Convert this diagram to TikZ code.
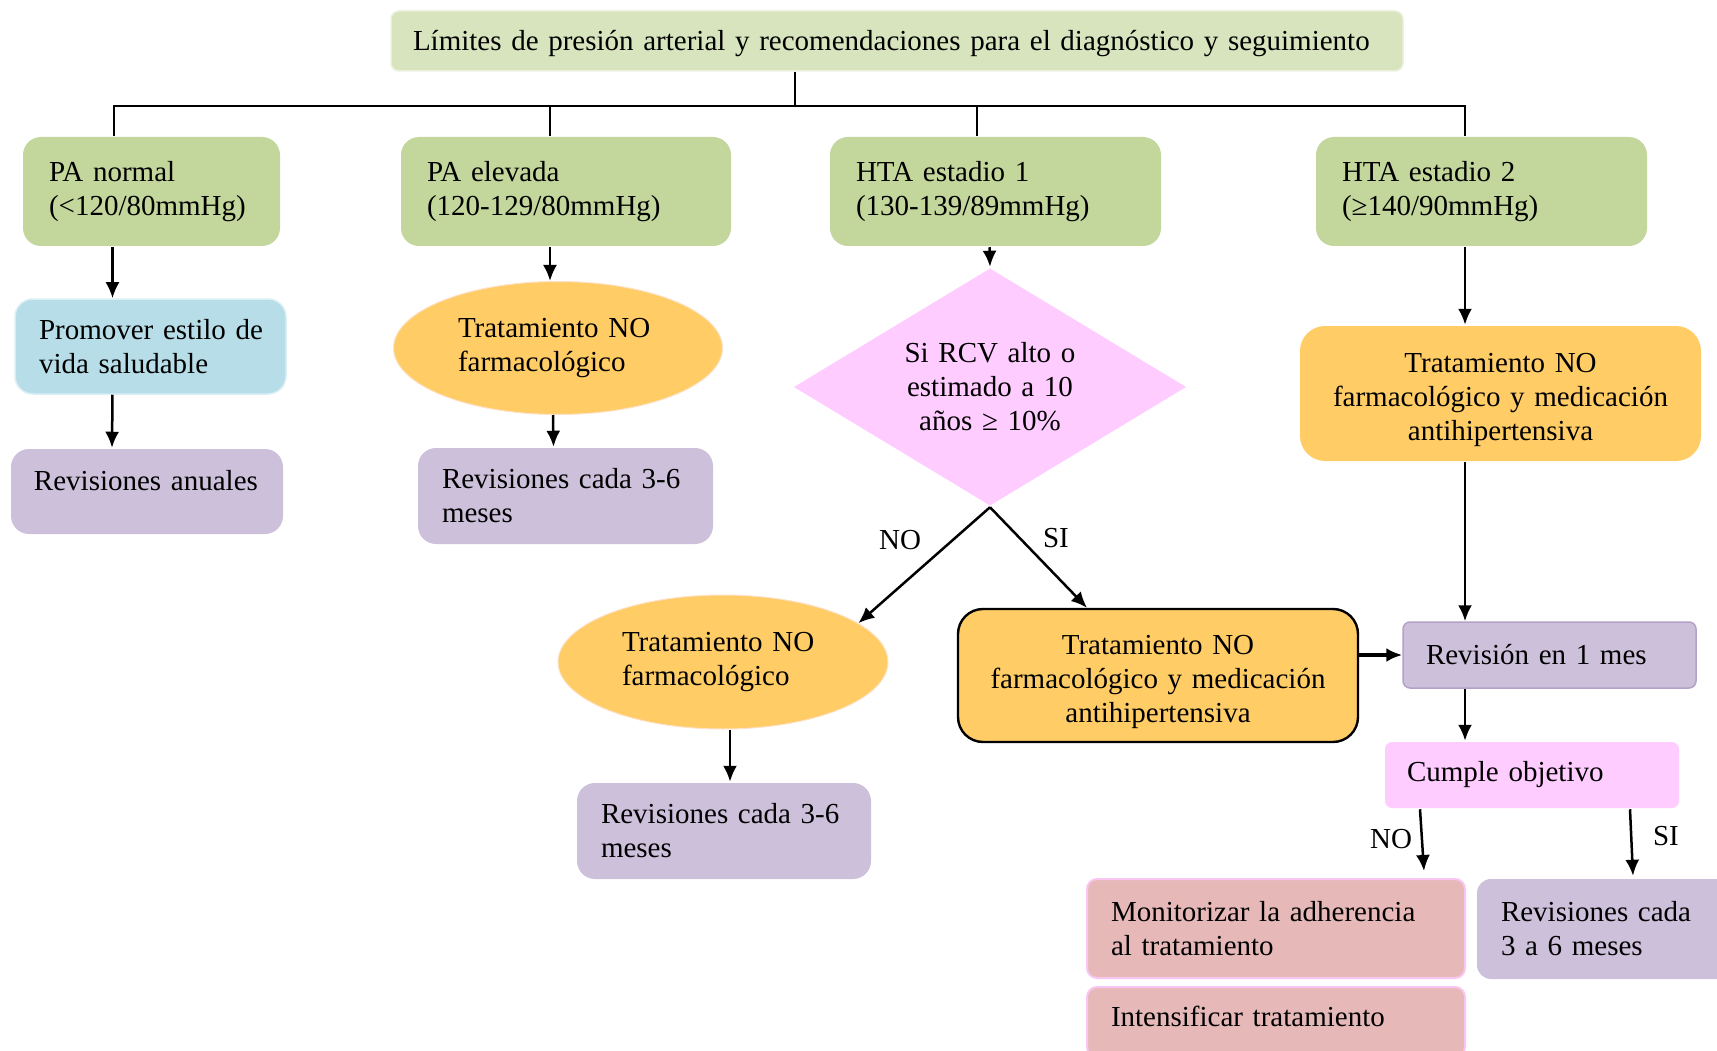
\documentclass[tikz,border=0pt]{standalone}
\usepackage{fontspec}
\setmainfont{Liberation Serif}
\usetikzlibrary{shapes.geometric,arrows.meta}
\definecolor{verdeclaro}{HTML}{D7E4BD}
\definecolor{bordeverde}{HTML}{EBF1DE}
\definecolor{verde}{HTML}{C3D69B}
\definecolor{azul}{HTML}{B7DEE8}
\definecolor{bordeazul}{HTML}{DAEEF3}
\definecolor{morado}{HTML}{CCC0DA}
\definecolor{bordemorado}{HTML}{B3A2C7}
\definecolor{naranja}{HTML}{FFCC66}
\definecolor{bordenaranja}{HTML}{FDE2C8}
\definecolor{rosa}{HTML}{FFCCFF}
\definecolor{rojo}{HTML}{E6B9B8}
\definecolor{borderojo}{HTML}{F9C6F2}

\begin{document}
\begin{tikzpicture}[x=1pt,y=-1pt,line width=2.5pt,>={Latex[length=16pt,width=14pt]},font=\fontsize{29}{34}\selectfont]
		  \tikzstyle{every node}=[inner ysep=0pt];
		  \tikzstyle{caja}=[rectangle,rounded corners=18pt,align=left,inner xsep=24pt];
		  \tikzstyle{rango}=[caja,fill=verde,inner xsep=26pt,minimum height=109pt];
		  \tikzstyle{revision}=[caja,fill=morado];
		  \tikzstyle{trata}=[caja,fill=naranja,align=center,inner xsep=15pt,rounded corners=25pt];
		  \tikzstyle{elipse}=[ellipse,fill=naranja,draw=bordenaranja,line width=1pt,inner sep=0pt,align=left];
		  \tikzstyle{conector}=[draw,line width=1.8pt];
			\path[use as bounding box,clip] (0,0) rectangle (1717,1051);

			\path (897,41) node[caja,fill=verdeclaro,draw=bordeverde,line width=1.5pt,rounded corners=8pt,inner xsep=22pt,text width=968pt,minimum height=60pt] (tit) {\mbox{Límites de presión arterial y recomendaciones para el diagnóstico y seguimiento}\rule{0pt}{26pt}};

			\path (151.5,191.5) node[rango,text width=205pt]  (norm) {PA normal\\(<120/80mmHg)};
			\path (566,191.5)   node[rango,text width=278pt]  (elev) {PA elevada\\(120-129/80mmHg)};
			\path (995.5,191.5) node[rango,text width=279pt]  (est1) {HTA estadio 1\\(130-139/89mmHg)};
			\path (1481.5,191.5) node[rango,text width=279pt] (est2) {HTA estadio 2\\(≥140/90mmHg)};

			\path (150.5,346.5) node[caja,fill=azul,draw=bordeazul,line width=1.5pt,text width=223pt,minimum height=95pt] (prom) {\mbox{Promover estilo de}\\\mbox{vida saludable}};
			\path (147,491.5)   node[revision,inner xsep=23pt,text width=226pt,minimum height=85pt] (anual) {\mbox{Revisiones anuales}\rule[-22pt]{0pt}{0pt}};

			\path (558,348)     node[elipse,text width=200pt,minimum width=329pt,minimum height=133pt] (ell1) {\mbox{Tratamiento NO}\\farmacológico};
			\path (565.5,496)   node[revision,text width=247pt,minimum height=96pt] (rev1) {\mbox{Revisiones cada 3-6}\\meses};

			\path (990,387)     node[diamond,fill=rosa,aspect=1.65,inner sep=0pt,align=center,text width=200pt,minimum width=393pt,minimum height=238pt] (rcv) {Si RCV alto o\\estimado a 10\\años ≥ 10\%};
			\path (723,662)     node[elipse,text width=202pt,minimum width=330pt,minimum height=134pt] (ell2) {\mbox{Tratamiento NO}\\farmacológico};
			\path (724,831)     node[revision,text width=246pt,minimum height=96pt] (rev2) {\mbox{Revisiones cada 3-6}\\meses};
			\path (1158,675.5)  node[trata,draw=black,line width=2.4pt,text width=370pt,minimum height=133pt] (trat) {\rule{0pt}{32pt}Tratamiento NO\\farmacológico y medicación\\antihipertensiva};

			\path (1500.5,393.5) node[trata,text width=371pt,minimum height=135pt] (trat2) {\rule{0pt}{32pt}Tratamiento NO\\farmacológico y medicación\\antihipertensiva};
			\path (1549.5,655)  node[revision,draw=bordemorado,line width=1.5pt,rounded corners=7pt,inner xsep=23pt,text width=247pt,minimum height=66pt] (mes) {Revisión en 1 mes};
			\path (1532,775)    node[caja,fill=rosa,rounded corners=7pt,inner xsep=22pt,text width=250pt,minimum height=66pt] (cumple) {Cumple objetivo};
			\path (1276,928.5)  node[caja,fill=rojo,draw=borderojo,line width=2pt,rounded corners=10pt,text width=330pt,minimum height=99pt] (moni) {\mbox{Monitorizar la adherencia}\\al tratamiento};
			\path (1276,1022)   node[caja,fill=rojo,draw=borderojo,line width=2pt,rounded corners=10pt,text width=330pt,minimum height=70pt] (inten) {Intensificar tratamiento\rule[-12pt]{0pt}{0pt}};
			\path (1611,929)    node[revision,rounded corners=14pt,text width=220pt,minimum height=100pt] (rev3) {\mbox{Revisiones cada}\\3 a 6 meses};

			\path (900,540)  node (lno1) {NO};
			\path (1056,538) node (lsi1) {SI};
			\path (1391,839) node (lno2) {NO};
			\path (1666,836) node (lsi2) {SI};

			\coordinate (bt) at (795,106);
			\coordinate (b1) at (114,106);
			\coordinate (b2) at (550,106);
			\coordinate (b3) at (977,106);
			\coordinate (b4) at (1465,106);
			\path[conector] (tit.south -| bt) -- (bt);
			\path[conector] (norm.north -| b1) -- (b1) -- (b4) -- (est2.north -| b4);
			\path[conector] (b2) -- (elev.north -| b2);
			\path[conector] (b3) -- (est1.north -| b3);

			\path[->,draw] ([xshift=-39pt]norm.south) -- ([xshift=-38pt]prom.north);
			\path[->,draw] ([xshift=-38pt]prom.south) -- ([xshift=-35pt]anual.north);
			\path[->,draw] ([xshift=-16pt]elev.south) -- ([xshift=-8pt]ell1.north);
			\path[->,draw] ([xshift=-5pt]ell1.south) -- ([xshift=-12pt]rev1.north);
			\path[->,draw] ([xshift=-6pt]est1.south) -- (rcv.north);
			\path[->,draw] (rcv.south) -- (ell2.16);
			\path[->,draw] (rcv.south) -- ([xshift=-71pt]trat.north);
			\path[->,draw] ([xshift=7pt]ell2.south) -- ([xshift=6pt]rev2.north);
			\path[->,draw,line width=3.5pt] (trat.east |- mes.west) -- (mes.west);
			\path[->,draw] (est2.south -| b4) -- (trat2.north -| b4);
			\path[->,draw] (trat2.south -| b4) -- (mes.north -| b4);
			\path[->,draw] (mes.south -| b4) -- (cumple.north -| b4);
			\path[->,draw] ([xshift=-112pt]cumple.south) -- ([xshift=148pt,yshift=7pt]moni.north);
			\path[->,draw] ([xshift=98pt]cumple.south) -- ([xshift=22pt,yshift=2pt]rev3.north);
		\end{tikzpicture}
\end{document}
